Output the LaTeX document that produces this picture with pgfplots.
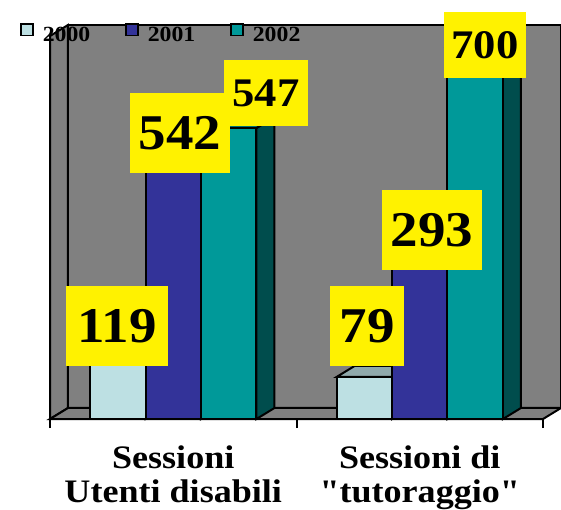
\documentclass[border=0pt]{standalone}
\usepackage{pgfplots}
\pgfplotsset{compat=1.18}
\usepackage{fontspec}
\setmainfont{Liberation Serif}[Ligatures=TeXOff]
\definecolor{wall}{HTML}{808080}
\definecolor{cA}{HTML}{BDE0E3}
\definecolor{cAtop}{HTML}{8FA9AB}
\definecolor{cAside}{HTML}{6E8A8C}
\definecolor{cB}{HTML}{333399}
\definecolor{cBtop}{HTML}{262673}
\definecolor{cBside}{HTML}{1A1A4D}
\definecolor{cC}{HTML}{009999}
\definecolor{cCtop}{HTML}{007373}
\definecolor{cCside}{HTML}{004D4D}
\newcommand{\sx}[1]{\scalebox{1.1}[1]{#1}}
\begin{document}
\begin{tikzpicture}
\useasboundingbox (-25pt,-45pt) rectangle (255.5pt,209.5pt);
\begin{axis}[
  scale only axis, width=246.5pt, height=191.5pt,
  at={(0pt,0pt)}, anchor=south west,
  xmin=-0.5, xmax=1.5, ymin=0, ymax=720,
  clip=false,
  axis y line=none, axis x line*=bottom,
  x axis line style={-, line width=1.2pt},
  xtick={0,1},
  xticklabels={{\sx{Sessioni}\\\sx{Utenti disabili}},{\sx{Sessioni di}\\\sx{"tutoraggio"}}},
  xticklabel style={align=center, font=\fontsize{16.4}{17}\selectfont\bfseries, inner sep=0pt, yshift=-13pt},
  major tick length=0pt,
  minor xtick={-0.5,0.5,1.5},
  minor tick length=4.5pt,
  tick align=outside,
  tick style={black, line width=1pt},
  legend columns=3,
  legend style={at={(-0.061,1.006)}, anchor=west, draw=none, fill=none, inner sep=0pt,
    font=\fontsize{10.8}{10.8}\selectfont\bfseries,
    nodes={inner sep=0pt},
    /tikz/every odd column/.append style={column sep=4.5pt},
    /tikz/every even column/.append style={column sep=17.5pt}},
  legend image code/.code={\path[#1, draw=black, line width=0.9pt] (0.45pt,0.2pt) rectangle (6.3pt,6.05pt);},
]
% walls and floor
\addplot[fill=wall, draw=black, line width=1pt, forget plot] coordinates {(-0.427,20.7) (1.573,20.7) (1.573,740.7) (-0.427,740.7)} -- cycle;
\addplot[fill=wall, draw=black, line width=1pt, forget plot] coordinates {(-0.5,0) (-0.427,20.7) (-0.427,740.7) (-0.5,720)} -- cycle;
\addplot[fill=wall, draw=black, line width=1pt, forget plot] coordinates {(-0.5,0) (1.5,0) (1.573,20.7) (-0.427,20.7)} -- cycle;
% 2000
\addplot[fill=cAside, draw=black, line width=1pt, forget plot] coordinates {(-0.1125,0) (-0.0395,20.7) (-0.0395,139.7) (-0.1125,119)} -- cycle;
\addplot[fill=cAtop, draw=black, line width=1pt, forget plot] coordinates {(-0.3375,119) (-0.2645,139.7) (-0.0395,139.7) (-0.1125,119)} -- cycle;
\addplot[fill=cAside, draw=black, line width=1pt, forget plot] coordinates {(0.8875,0) (0.9605,20.7) (0.9605,99.7) (0.8875,79)} -- cycle;
\addplot[fill=cAtop, draw=black, line width=1pt, forget plot] coordinates {(0.6625,79) (0.7355,99.7) (0.9605,99.7) (0.8875,79)} -- cycle;
\addplot[ybar, bar width=0.225, bar shift=-0.225, fill=cA, draw=black, line width=1pt] coordinates {(0,119) (1,79)};
\addlegendentry{\sx{2000}}
% 2001
\addplot[fill=cBside, draw=black, line width=1pt, forget plot] coordinates {(0.1125,0) (0.1855,20.7) (0.1855,562.7) (0.1125,542)} -- cycle;
\addplot[fill=cBtop, draw=black, line width=1pt, forget plot] coordinates {(-0.1125,542) (-0.0395,562.7) (0.1855,562.7) (0.1125,542)} -- cycle;
\addplot[fill=cBside, draw=black, line width=1pt, forget plot] coordinates {(1.1125,0) (1.1855,20.7) (1.1855,313.7) (1.1125,293)} -- cycle;
\addplot[fill=cBtop, draw=black, line width=1pt, forget plot] coordinates {(0.8875,293) (0.9605,313.7) (1.1855,313.7) (1.1125,293)} -- cycle;
\addplot[ybar, bar width=0.225, bar shift=0, fill=cB, draw=black, line width=1pt] coordinates {(0,542) (1,293)};
\addlegendentry{\sx{2001}}
% 2002
\addplot[fill=cCside, draw=black, line width=1pt, forget plot] coordinates {(0.3375,0) (0.4105,20.7) (0.4105,567.7) (0.3375,547)} -- cycle;
\addplot[fill=cCtop, draw=black, line width=1pt, forget plot] coordinates {(0.1125,547) (0.1855,567.7) (0.4105,567.7) (0.3375,547)} -- cycle;
\addplot[fill=cCside, draw=black, line width=1pt, forget plot] coordinates {(1.3375,0) (1.4105,20.7) (1.4105,720.7) (1.3375,700)} -- cycle;
\addplot[fill=cCtop, draw=black, line width=1pt, forget plot] coordinates {(1.1125,700) (1.1855,720.7) (1.4105,720.7) (1.3375,700)} -- cycle;
\addplot[ybar, bar width=0.225, bar shift=0.225, fill=cC, draw=black, line width=1pt] coordinates {(0,547) (1,700)};
\addlegendentry{\sx{2002}}
% value labels
\tikzset{big/.style={fill=yellow, inner sep=0pt, font=\fontsize{25}{25}\selectfont\bfseries, minimum height=40pt},
         small/.style={fill=yellow, inner sep=0pt, font=\fontsize{20.3}{20.3}\selectfont\bfseries, minimum height=33pt}}
\node[big, minimum width=51pt] at (axis cs:-0.228,174.8) {\sx{119}};
\node[big, minimum width=50pt] at (axis cs:0.0274,536.8) {\sx{542}};
\node[small, minimum width=42pt] at (axis cs:0.376,612.9) {\sx{547}};
\node[big, minimum width=37pt] at (axis cs:0.786,174.8) {\sx{79}};
\node[big, minimum width=50pt] at (axis cs:1.0497,355.3) {\sx{293}};
\node[small, minimum width=41pt] at (axis cs:1.2647,703.1) {\sx{700}};
\end{axis}
\end{tikzpicture}
\end{document}
